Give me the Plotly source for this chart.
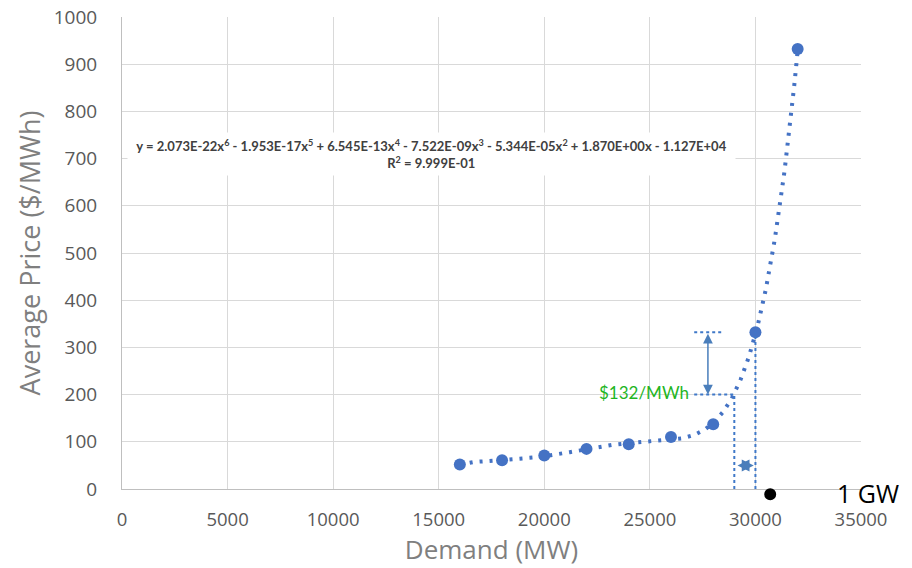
import numpy as np
import plotly.graph_objects as go

demand = [16000, 18000, 20000, 22000, 24000, 26000, 28000, 30000, 32000]
price = [52, 61, 71, 85, 95, 110, 137, 332, 932]

x_ticks = [0, 5000, 10000, 15000, 20000, 25000, 30000, 35000]
y_ticks = [0, 100, 200, 300, 400, 500, 600, 700, 800, 900, 1000]

# 6th-order trendline coefficients, as printed in the chart's equation label
trend_coefs = [2.073e-22, -1.953e-17, 6.545e-13, -7.522e-09, -5.344e-05, 1.870e+00, -1.127e+04]

eq_text = ("<b>y = 2.073E-22x<sup>6</sup> - 1.953E-17x<sup>5</sup> + 6.545E-13x<sup>4</sup> - 7.522E-09x<sup>3</sup>"
           " - 5.344E-05x<sup>2</sup> + 1.870E+00x - 1.127E+04<br>R<sup>2</sup> = 9.999E-01</b>")

# annotation values
price_low = 200
price_high = 332
demand_low = 29000
demand_high = 30000
gap_label = "$132/MWh"
gw_demand = 30700

BLUE = "#4472C4"

xt = np.linspace(demand[0], demand[-1], 600)
yt = np.polyval(trend_coefs, xt)

fig = go.Figure()
fig.add_trace(go.Scatter(x=xt, y=yt, mode="lines",
                         line=dict(color=BLUE, width=4, dash="3px,7px"),
                         hoverinfo="skip", showlegend=False))
fig.add_trace(go.Scatter(x=demand, y=price, mode="markers",
                         marker=dict(color=BLUE, size=12),
                         showlegend=False))

# black "1 GW" dot just under the axis
fig.add_shape(type="circle", xref="x", yref="paper",
              xsizemode="pixel", ysizemode="pixel",
              xanchor=gw_demand, yanchor=-0.011,
              x0=-6, x1=6, y0=-6, y1=6,
              fillcolor="black", line=dict(color="black", width=0))

DOT = dict(color="#3f78c8", width=2, dash="dot")
# vertical dotted guides
fig.add_shape(type="line", x0=demand_low, x1=demand_low, y0=0, y1=price_low, line=DOT)
fig.add_shape(type="line", x0=demand_high, x1=demand_high, y0=0, y1=price_high, line=DOT)
# horizontal dotted guides
fig.add_shape(type="line", x0=27100, x1=demand_low, y0=price_low, y1=price_low, line=DOT)
fig.add_shape(type="line", x0=27100, x1=28500, y0=price_high, y1=price_high, line=DOT)

ARROW = "#4a7ebb"
fig.add_annotation(x=27750, y=price_low, ax=27750, ay=price_high, xref="x", yref="y",
                   axref="x", ayref="y", text="", showarrow=True, arrowside="end+start",
                   arrowhead=2, arrowsize=1.3, arrowwidth=1.5, arrowcolor=ARROW)
fig.add_annotation(x=demand_high - 80, y=50, ax=demand_low + 80, ay=50, xref="x", yref="y",
                   axref="x", ayref="y", text="", showarrow=True, arrowside="end+start",
                   arrowhead=2, arrowsize=1.6, arrowwidth=1.5, arrowcolor=ARROW)

fig.add_annotation(x=26950, y=205, xref="x", yref="y", text=gap_label, showarrow=False,
                   xanchor="right", yanchor="middle",
                   font=dict(family="Lato", size=17, color="#1fb51f"))
fig.add_annotation(x=33750, y=-0.009, xref="x", yref="paper", text="1 GW", showarrow=False,
                   xanchor="left", yanchor="middle",
                   font=dict(family="Open Sans", size=25, color="black"))

fig.add_annotation(x=14670, y=710, xref="x", yref="y", text=eq_text, showarrow=False,
                   xanchor="center", yanchor="middle", align="center",
                   width=605, height=40, bgcolor="white",
                   font=dict(family="Lato", size=13, color="#404040"))

fig.update_layout(
    width=912, height=568,
    margin=dict(l=122, r=51, t=17, b=79),
    paper_bgcolor="white", plot_bgcolor="white",
    font=dict(family="Open Sans", color="#595959"),
    showlegend=False,
)
fig.update_xaxes(range=[0, 35000], tickvals=x_ticks, ticktext=[str(v) for v in x_ticks],
                 showgrid=True, gridcolor="#d9d9d9", gridwidth=1, automargin=False,
                 zeroline=False, showline=True, linecolor="#bfbfbf", linewidth=1,
                 ticks="", ticklabelstandoff=14, ticklabeloverflow="allow",
                 tickfont=dict(size=18.5, color="#595959"),
                 title=dict(text="Demand (MW)", font=dict(size=26, color="#7f7f7f"), standoff=10))
fig.update_yaxes(range=[0, 1000], tickvals=y_ticks, ticktext=[str(v) for v in y_ticks],
                 showgrid=True, gridcolor="#d9d9d9", gridwidth=1, automargin=False,
                 zeroline=False, showline=True, linecolor="#bfbfbf", linewidth=1,
                 ticks="", ticklabelstandoff=20, ticklabeloverflow="allow",
                 tickfont=dict(size=19, color="#595959"),
                 title=dict(text="Average Price ($/MWh)", font=dict(size=27, color="#7f7f7f"), standoff=5))

# remove the browser's default 8px page margin so the figure fills the window
fig.write_html("out.html", config={"displayModeBar": False},
               post_script="document.body.style.margin='0';document.body.style.overflow='hidden';")
